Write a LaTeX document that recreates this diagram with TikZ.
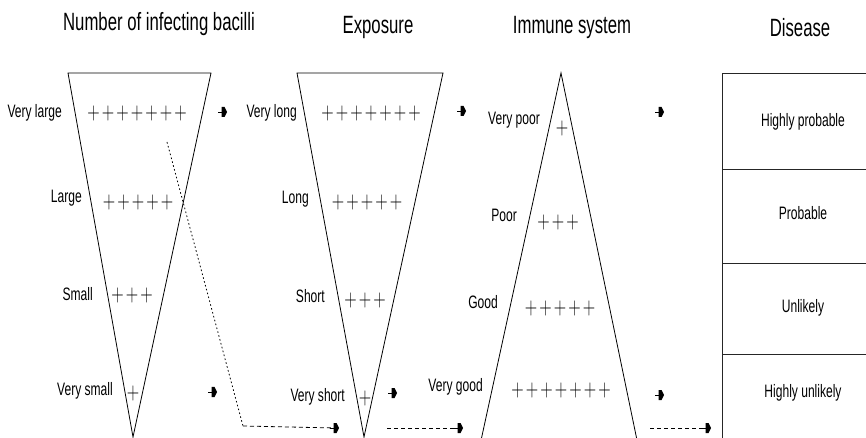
\documentclass[tikz,border=0pt]{standalone}
\usepackage{fontspec}
\setmainfont{Liberation Sans}[FakeStretch=0.67]
\usetikzlibrary{arrows.meta,calc,positioning}
\newcommand{\plusrow}[1]{{\fontsize{16bp}{18bp}\selectfont
  \foreach \k in {1,...,#1}{\ifnum\k>1\kern2.1bp\fi\scalebox{1}[1.4]{$+$}}}}
\tikzset{
  title/.style       = {inner sep=0pt, font=\fontsize{25bp}{28bp}\selectfont},
  level label/.style = {anchor=east, inner sep=0pt,
                        font=\fontsize{18bp}{20bp}\selectfont},
  plus row/.style    = {inner sep=0pt, black},
  outcome/.style     = {inner sep=0pt, font=\fontsize{18bp}{20bp}\selectfont},
  funnel/.style      = {line width=0.8bp, line join=miter},
  table line/.style  = {line width=0.8bp, black!85},
  guide/.style       = {line width=0.8bp, dash pattern=on 4bp off 3bp},
  guide dotted/.style = {line width=0.8bp, dash pattern=on 1.6bp off 2.4bp},
  arrowmark/.pic     = {\fill (-2.5,-5) -- (0.5,-5) -- (3,0) -- (0.5,5)
                          -- (-2.5,5) -- cycle;
                        \draw[line width=0.8bp] (-6,0) -- (-2.5,0);},
}

\begin{document}
\begin{tikzpicture}[x=1bp, y=-1bp]
  \useasboundingbox (0,0) rectangle (866,438);
  \clip (0,0) rectangle (866,438);

  % column titles
  \node[title] (t-bacilli) at (159,24) {Number of infecting bacilli};
  \node[title] (t-exposure) at (378,27) {Exposure};
  \node[title] (t-immune) at (572,27) {Immune system};
  \node[title] (t-disease) at (800,28) {Disease};

  % bacilli funnel
  \draw[funnel] (68,73) -- (211,73) -- (133,437) -- cycle;
  \node[level label] (b1) at (62,113) {Very large};
  \node[level label] (b2) at (82,198) {Large};
  \node[level label] (b3) at (93,294) {Small};
  \node[level label] (b4) at (113,391) {Very small};
  \node[plus row] (bp1) at (137,113) {\plusrow{7}};
  \node[plus row] (bp2) at (138,202) {\plusrow{5}};
  \node[plus row] (bp3) at (132,295) {\plusrow{3}};
  \node[plus row] (bp4) at (133,393) {\plusrow{1}};

  % exposure funnel
  \draw[funnel] (297,73) -- (443,73) -- (364,437) -- cycle;
  \node[level label] (e1) at (297,113) {Very long};
  \node[level label] (e2) at (309,199) {Long};
  \node[level label] (e3) at (325,296) {Short};
  \node[level label] (e4) at (345,397) {Very short};
  \node[plus row] (ep1) at (371,113) {\plusrow{7}};
  \node[plus row] (ep2) at (367,202) {\plusrow{5}};
  \node[plus row] (ep3) at (365,300) {\plusrow{3}};
  \node[plus row] (ep4) at (365,398) {\plusrow{1}};

  % immune system funnel
  \draw[funnel] (480,445) -- (561,73) -- (638,445);
  \node[level label] (i1) at (540,120) {Very poor};
  \node[level label] (i2) at (517,215) {Poor};
  \node[level label] (i3) at (498,302) {Good};
  \node[level label] (i4) at (483,387) {Very good};
  \node[plus row] (ip1) at (562,128) {\plusrow{1}};
  \node[plus row] (ip2) at (558,222) {\plusrow{3}};
  \node[plus row] (ip3) at (560,308) {\plusrow{5}};
  \node[plus row] (ip4) at (561,390) {\plusrow{7}};

  % disease table
  \draw[table line] (722,445) -- (722,73) -- (870,73);
  \foreach \y in {169,263,354}
    \draw[table line] (722,\y) -- (870,\y);
  \node[outcome] (d1) at (803,122) {Highly probable};
  \node[outcome] (d2) at (803,213) {Probable};
  \node[outcome] (d3) at (803,308) {Unlikely};
  \node[outcome] (d4) at (803,393) {Highly unlikely};

  % example path
  \coordinate (start) at (167,142);
  \coordinate (bend) at (243,426);
  \coordinate (m-exp) at (336,428);
  \coordinate (m-imm) at (460,428);
  \coordinate (m-dis) at (708,428);
  \draw[guide dotted] (start) -- (bend);
  \draw[guide] (bend) -- (m-exp);
  \draw[guide] (387,428) -- (m-imm);
  \draw[guide] (650,428) -- (m-dis);
  \pic at (m-exp) {arrowmark};
  \pic at (m-imm) {arrowmark};
  \pic at (m-dis) {arrowmark};

  % loose marks
  \foreach \mx/\my in {224/112, 214/392, 394/393, 463/111, 661/112, 661/395}
    \pic at (\mx,\my) {arrowmark};
\end{tikzpicture}
\end{document}
